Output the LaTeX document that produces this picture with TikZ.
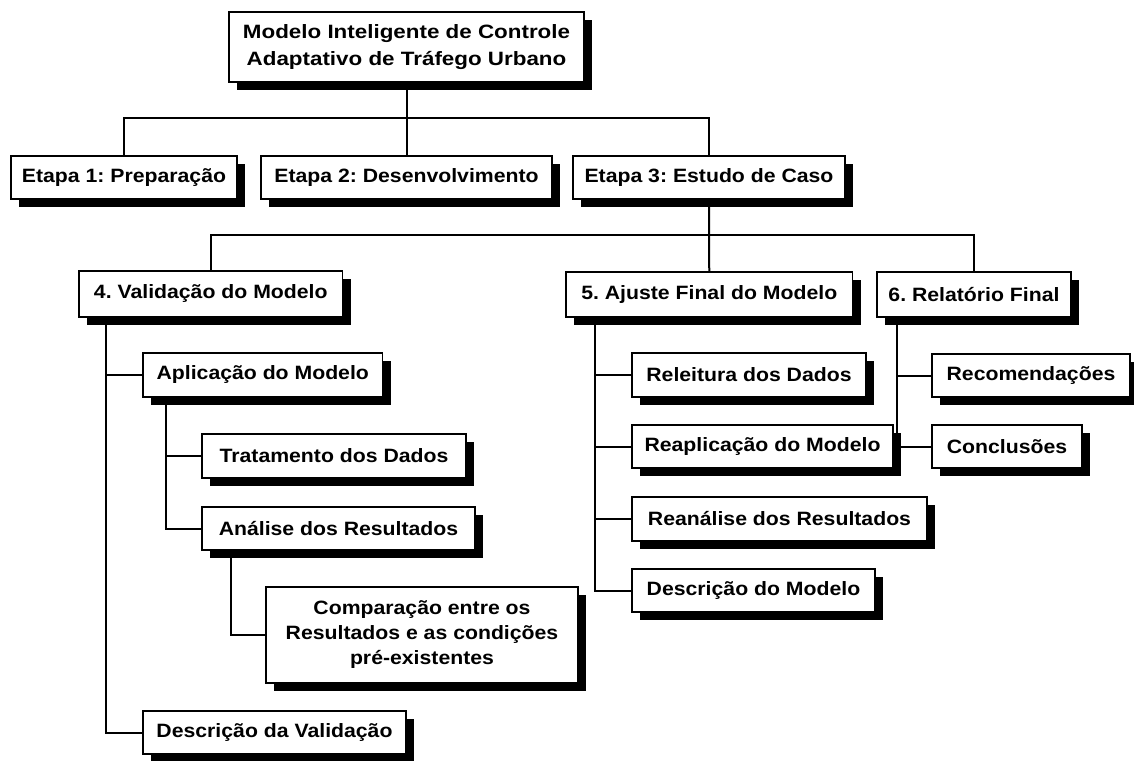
\documentclass[tikz,border=0pt]{standalone}
\usepackage{fontspec}
\setmainfont{Liberation Sans}
\newfontfamily\boxfont{Liberation Sans}[FakeStretch=1.1]
\newfontfamily\topfont{Liberation Sans}[FakeStretch=1.16]
\usetikzlibrary{shadows}
\pgfdeclarelayer{bg}
\pgfsetlayers{bg,main}
\frenchspacing
\begin{document}
\begin{tikzpicture}[x=1pt,y=-1pt,
  box/.style={draw=black, line width=1.7pt, fill=white, inner sep=0pt, align=center, text=black,
    font=\boxfont\bfseries\fontsize{19.3}{25}\selectfont,
    general shadow={fill=black, shadow xshift=8pt, shadow yshift=-8pt}},
  topbox/.style={box, font=\topfont\bfseries\fontsize{19.3}{27.6}\selectfont},
  link/.style={draw=black, line width=2pt}]
\useasboundingbox (0,0) rectangle (1134,760);

% level 0
\node[topbox, minimum width=355pt, minimum height=70pt] (top) at (406.5,47) {Modelo Inteligente de Controle\\Adaptativo de Tráfego Urbano};
% level 1
\node[box, minimum width=226pt, minimum height=43pt] (e1) at (124,177.5) {Etapa 1: Preparação};
\node[box, minimum width=291pt, minimum height=43pt] (e2) at (406.5,177.5) {Etapa 2: Desenvolvimento};
\node[box, minimum width=272pt, minimum height=43pt] (e3) at (709,177.5) {Etapa 3: Estudo de Caso};
% level 2
\node[box, minimum width=263.5pt, minimum height=46pt] (v4) at (210.75,294) {4. Validação do Modelo};
\node[box, minimum width=286.5pt, minimum height=45pt] (v5) at (709.25,294.5) {5. Ajuste Final do Modelo};
\node[box, minimum width=194pt, minimum height=45pt] (v6) at (974,294.5) {6. Relatório Final};
% branch 4
\node[box, minimum width=239.5pt, minimum height=44pt] (apl) at (262.75,375) {Aplicação do Modelo};
\node[box, minimum width=264pt, minimum height=44pt] (trat) at (334,456) {Tratamento dos Dados};
\node[box, minimum width=273pt, minimum height=43pt] (anal) at (338.5,528.5) {Análise dos Resultados};
\node[box, minimum width=312pt, minimum height=96pt] (comp) at (422,635) {Comparação entre os\\Resultados e as condições\\pré-existentes};
\node[box, minimum width=263pt, minimum height=43pt] (dval) at (274.5,732.5) {Descrição da Validação};
% branch 5
\node[box, minimum width=234pt, minimum height=44pt] (rel) at (749,375) {Releitura dos Dados};
\node[box, minimum width=261pt, minimum height=43pt] (reap) at (762.5,446.5) {Reaplicação do Modelo};
\node[box, minimum width=295pt, minimum height=44pt] (rean) at (779.5,519) {Reanálise dos Resultados};
\node[box, minimum width=243pt, minimum height=43pt] (descm) at (753.5,590.5) {Descrição do Modelo};
% branch 6
\node[box, minimum width=198pt, minimum height=43pt] (recom) at (1031,375.5) {Recomendações};
\node[box, minimum width=150pt, minimum height=43pt] (concl) at (1007,446.5) {Conclusões};

\coordinate (h1) at (0,118);
\coordinate (h2) at (0,235);
\coordinate (b4) at (106,317);
\coordinate (b5) at (166,397);
\coordinate (b6) at (231,550);
\coordinate (b7) at (595,317);
\coordinate (b8) at (897,317);

\begin{pgfonlayer}{bg}
\fill[white] (0,0) rectangle (1134,760);
\draw[link] (top.south) -- (e2.north);
\draw[link] (e1.north) |- (e3.north |- h1) -- (e3.north);
\draw[link] (e3.south) -- (v5.north);
\draw[link] (v4.north) |- (v6.north |- h2) -- (v6.north);
\draw[link] (b4) |- (dval.west);
\draw[link] (b4 |- apl.west) -- (apl.west);
\draw[link] (b5) |- (anal.west);
\draw[link] (b5 |- trat.west) -- (trat.west);
\draw[link] (b6) |- (comp.west);
\draw[link] (b7) |- (descm.west);
\draw[link] (b7 |- rel.west) -- (rel.west);
\draw[link] (b7 |- reap.west) -- (reap.west);
\draw[link] (b7 |- rean.west) -- (rean.west);
\draw[link] (b8) |- (concl.west);
\draw[link] (b8 |- recom.west) -- (recom.west);
\end{pgfonlayer}
\end{tikzpicture}
\end{document}
